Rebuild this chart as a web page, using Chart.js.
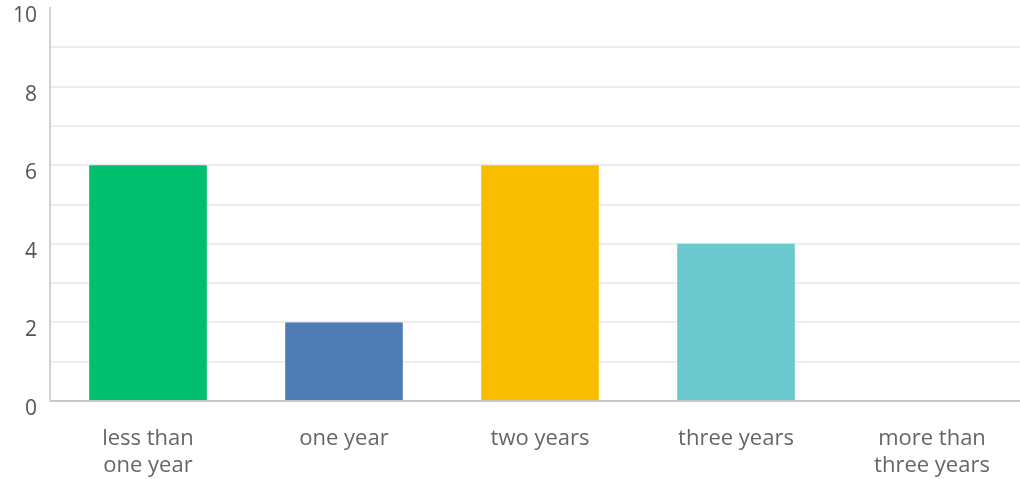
<!DOCTYPE html>
<html>
<head>
<meta charset="utf-8">
<script src="https://cdn.jsdelivr.net/npm/chart.js@4.4.0/dist/chart.umd.min.js"></script>
<style>
  html, body { margin: 0; padding: 0; background: #fff; overflow: hidden; }
  #wrap { width: 1030px; height: 479px; }
</style>
</head>
<body>
<div id="wrap"><canvas id="tenure"></canvas></div>
<script>
const categories = [
  ['less than', 'one year'],
  'one year',
  'two years',
  'three years',
  ['more than', 'three years']
];
const responses = [6, 2, 6, 4, 0];
const barColors = ['#00bf6f', '#507cb6', '#f9be00', '#6bc8cd', '#ff8b4f'];
const yTicks = [0, 2, 4, 6, 8, 10];

const ctx = document.getElementById('tenure');

new Chart(ctx, {
  type: 'bar',
  data: {
    labels: categories,
    datasets: [{
      data: responses,
      backgroundColor: barColors,
      borderWidth: 0,
      categoryPercentage: 0.6,
      barPercentage: 1
    }]
  },
  options: {
    responsive: true,
    maintainAspectRatio: false,
    animation: false,
    layout: { padding: 0 },
    plugins: {
      legend: { display: false },
      tooltip: { enabled: false }
    },
    scales: {
      x: {
        afterFit: (scale) => { scale.height = 78; },
        grid: { display: false, drawTicks: false },
        border: { color: '#c8c8c8', width: 2 },
        ticks: {
          color: '#666',
          padding: 24,
          font: { family: 'Open Sans', size: 22, lineHeight: 1.23 }
        }
      },
      y: {
        min: 0,
        max: 10,
        afterFit: (scale) => {
          scale.width = 50;
          scale.paddingTop = 8;
          scale.paddingBottom = 0;
        },
        border: { color: '#d4d4d4', width: 2 },
        grid: {
          drawTicks: false,
          color: (c) => (c.tick && c.tick.value === 10) ? 'rgba(0,0,0,0)' : '#ededed',
          lineWidth: 2
        },
        ticks: {
          stepSize: 1,
          autoSkip: false,
          padding: 13,
          labelOffset: 8,
          color: '#555',
          font: { family: 'Open Sans', size: 21 },
          callback: (v) => yTicks.includes(v) ? v : ''
        }
      }
    }
  }
});
</script>
</body>
</html>
